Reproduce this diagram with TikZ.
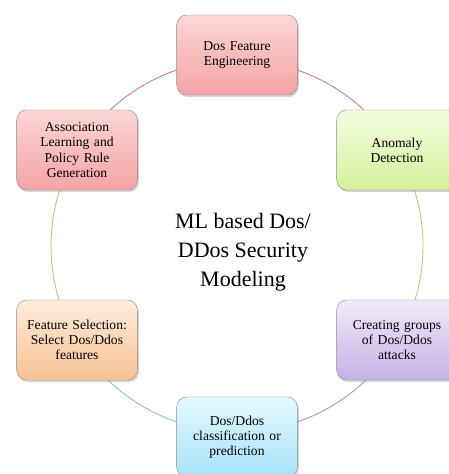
\documentclass[tikz,border=0pt]{standalone}
\usepackage{fontspec}
\setmainfont{Liberation Serif}
\usetikzlibrary{shapes,shadows}

\definecolor{redtop}{HTML}{FDD6D6}
\definecolor{redbot}{HTML}{F4A3A5}
\definecolor{greentop}{HTML}{F4FCE0}
\definecolor{greenbot}{HTML}{D3F29A}
\definecolor{purpletop}{HTML}{F1EAFA}
\definecolor{purplebot}{HTML}{C6B2E6}
\definecolor{bluetop}{HTML}{E4F8FF}
\definecolor{bluebot}{HTML}{A6E3F8}
\definecolor{orangetop}{HTML}{FEEBDB}
\definecolor{orangebot}{HTML}{F8C394}

\begin{document}
\begin{tikzpicture}[x=1pt, y=1pt]
    % Define styles
    \tikzstyle{stage} = [rectangle, rounded corners=10pt, minimum width=120pt, minimum height=80pt, text width=114pt, align=center, draw=black!45, font=\rmfamily\fontsize{13.6}{15.2}\selectfont, drop shadow={opacity=0.35, shadow xshift=1.5pt, shadow yshift=-2pt}]
    \tikzstyle{redstage} = [stage, top color=redtop, bottom color=redbot]
    \tikzstyle{greenstage} = [stage, top color=greentop, bottom color=greenbot]
    \tikzstyle{purplestage} = [stage, top color=purpletop, bottom color=purplebot]
    \tikzstyle{bluestage} = [stage, top color=bluetop, bottom color=bluebot]
    \tikzstyle{orangestage} = [stage, top color=orangetop, bottom color=orangebot]
    \tikzstyle{ring} = [line width=0.9pt]

    \useasboundingbox (0,0) rectangle (449,474);

    % Centre
    \coordinate (c) at (237,228);
    \node [align=center, font=\rmfamily\fontsize{22}{29}\selectfont] (title) at (243,222) {ML based Dos/\\DDos Security\\Modeling};

    % Ring
    \draw [ring, redbot!80!black] (c) ++(90:186pt) arc[start angle=90, end angle=31, radius=186pt];
    \draw [ring, greenbot!85!black] (c) ++(31:186pt) arc[start angle=31, end angle=-31, radius=186pt];
    \draw [ring, purplebot!85!black] (c) ++(-31:186pt) arc[start angle=-31, end angle=-90, radius=186pt];
    \draw [ring, bluebot!85!black] (c) ++(270:186pt) arc[start angle=270, end angle=211, radius=186pt];
    \draw [ring, orangebot!90!black] (c) ++(211:186pt) arc[start angle=211, end angle=149, radius=186pt];
    \draw [ring, redbot!80!black] (c) ++(149:186pt) arc[start angle=149, end angle=90, radius=186pt];

    % Nodes
    \node [redstage] (engineering) at (237,419) {Dos Feature\\Engineering};
    \node [greenstage] (anomaly) at (397,324) {Anomaly\\Detection};
    \node [purplestage] (groups) at (397,134) {Creating groups\\of Dos/Ddos\\attacks};
    \node [bluestage] (classify) at (237,37) {Dos/Ddos\\classification or\\prediction};
    \node [orangestage] (selection) at (77,134) {Feature Selection:\\Select Dos/Ddos\\features};
    \node [redstage] (association) at (77,324) {Association\\Learning and\\Policy Rule\\Generation};
\end{tikzpicture}
\end{document}
